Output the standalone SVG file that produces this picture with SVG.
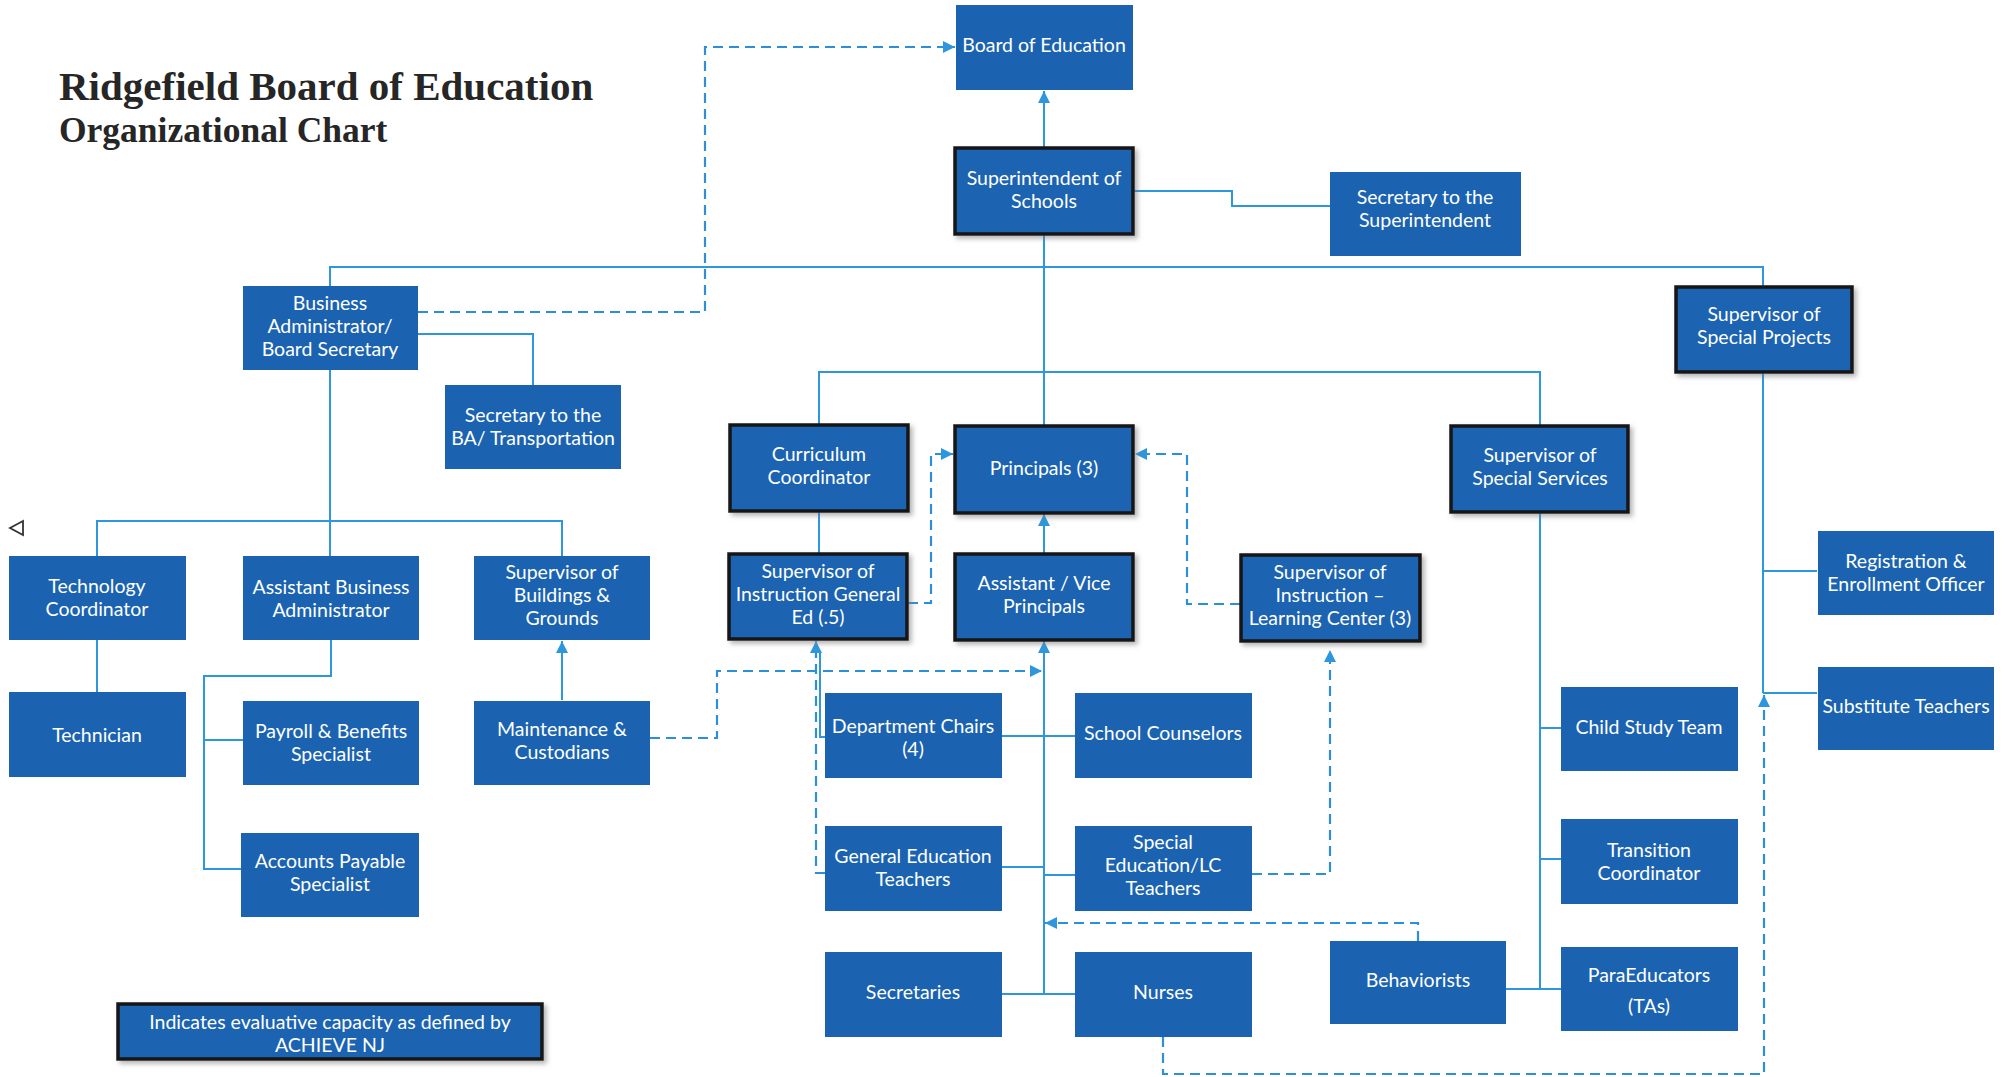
<svg xmlns="http://www.w3.org/2000/svg" width="2013" height="1077" viewBox="0 0 2013 1077">
<defs>
<style>
.box{fill:#1b63b1;}
.dark{stroke:#141414;stroke-width:3.5;filter:url(#sh);}
.t{font-family:Lato,"Open Sans","Noto Sans",sans-serif;font-size:19.5px;fill:#ffffff;text-anchor:middle;}
.title{font-family:"Liberation Serif","DejaVu Serif",serif;font-weight:bold;fill:#262626;}
.ln{fill:none;stroke:#2d96dc;stroke-width:2;}
.ds{fill:none;stroke:#2d8fd8;stroke-width:2.2;stroke-dasharray:10 6;}
</style>
<filter id="sh" x="-10%" y="-10%" width="125%" height="130%">
<feDropShadow dx="3" dy="3" stdDeviation="2.5" flood-color="#777" flood-opacity="0.55"/>
</filter>
<marker id="arr" viewBox="0 0 10 10" refX="10" refY="5" markerWidth="12" markerHeight="12" markerUnits="userSpaceOnUse" orient="auto">
<path d="M0,0 L10,5 L0,10 z" fill="#2d96dc"/>
</marker>
</defs>
<rect width="2013" height="1077" fill="#ffffff"/>

<g id="title">
<text class="title" x="59" y="100" font-size="41">Ridgefield Board of Education</text>
<text class="title" x="59" y="142" font-size="35.5">Organizational Chart</text>
</g>
<path d="M23,521 L10,528 L23,535 Z" fill="none" stroke="#333" stroke-width="1.8"/>

<g id="connectors">
<path class="ln" d="M1044,147 V91" marker-end="url(#arr)"/>
<path class="ln" d="M1134,191 H1232 V206 H1330"/>
<path class="ln" d="M1044,234 V426"/>
<path class="ln" d="M330,286 V267 H1763 V286"/>
<path class="ln" d="M819,425 V372 H1540 V425"/>
<path class="ln" d="M418,334 H533 V385"/>
<path class="ln" d="M330,370 V556"/>
<path class="ln" d="M97,556 V521 H562 V556"/>
<path class="ln" d="M97,640 V692"/>
<path class="ln" d="M331,640 V676 H204 V869 H241"/>
<path class="ln" d="M204,740 H243"/>
<path class="ln" d="M562,700 V641" marker-end="url(#arr)"/>
<path class="ln" d="M819,511 V553"/>
<path class="ln" d="M1044,553 V514" marker-end="url(#arr)"/>
<path class="ln" d="M1044,994 V641" marker-end="url(#arr)"/>
<path class="ln" d="M825,737 H820 V652"/>
<path class="ln" d="M1002,736 H1075"/>
<path class="ln" d="M1002,867 H1044"/>
<path class="ln" d="M1044,875 H1075"/>
<path class="ln" d="M1002,994 H1075"/>
<path class="ln" d="M1540,512 V989"/>
<path class="ln" d="M1540,728 H1561"/>
<path class="ln" d="M1540,859 H1561"/>
<path class="ln" d="M1506,989 H1561"/>
<path class="ln" d="M1763,372 V693"/>
<path class="ln" d="M1763,571 H1817"/>
<path class="ln" d="M1763,693 H1817"/>

<path class="ds" d="M418,312 H705 V47 H955" marker-end="url(#arr)"/>
<path class="ds" d="M908,603 H931 V454 H953" marker-end="url(#arr)"/>
<path class="ds" d="M1240,604 H1187 V454 H1135" marker-end="url(#arr)"/>
<path class="ds" d="M650,738 H717 V671 H1042" marker-end="url(#arr)"/>
<path class="ds" d="M825,873 H816 V641" marker-end="url(#arr)"/>
<path class="ds" d="M1252,874 H1330 V650" marker-end="url(#arr)"/>
<path class="ds" d="M1418,941 V923 H1045" marker-end="url(#arr)"/>
<path class="ds" d="M1163,1037 V1074 H1764 V695" marker-end="url(#arr)"/>
</g>

<g id="board"><rect class="box" x="956" y="5" width="177" height="85"/><text class="t" x="1044" y="52">Board of Education</text></g>
<g id="superintendent"><rect class="box dark" x="955" y="148" width="178" height="86"/><text class="t" x="1044" y="185">Superintendent of</text><text class="t" x="1044" y="208">Schools</text></g>
<g id="sec-super"><rect class="box" x="1330" y="172" width="191" height="84"/><text class="t" x="1425" y="204">Secretary to the</text><text class="t" x="1425" y="227">Superintendent</text></g>
<g id="business-admin"><rect class="box" x="243" y="286" width="175" height="84"/><text class="t" x="330" y="310">Business</text><text class="t" x="330" y="333">Administrator/</text><text class="t" x="330" y="356">Board Secretary</text></g>
<g id="sec-ba"><rect class="box" x="445" y="385" width="176" height="84"/><text class="t" x="533" y="422">Secretary to the</text><text class="t" x="533" y="445">BA/ Transportation</text></g>
<g id="special-projects"><rect class="box dark" x="1676" y="287" width="176" height="85"/><text class="t" x="1764" y="321">Supervisor of</text><text class="t" x="1764" y="344">Special Projects</text></g>
<g id="curriculum"><rect class="box dark" x="730" y="425" width="178" height="86"/><text class="t" x="819" y="461">Curriculum</text><text class="t" x="819" y="484">Coordinator</text></g>
<g id="principals"><rect class="box dark" x="955" y="426" width="178" height="87"/><text class="t" x="1044" y="475">Principals (3)</text></g>
<g id="special-services"><rect class="box dark" x="1451" y="426" width="177" height="86"/><text class="t" x="1540" y="462">Supervisor of</text><text class="t" x="1540" y="485">Special Services</text></g>
<g id="tech-coord"><rect class="box" x="9" y="556" width="177" height="84"/><text class="t" x="97" y="593">Technology</text><text class="t" x="97" y="616">Coordinator</text></g>
<g id="asst-ba"><rect class="box" x="243" y="556" width="176" height="84"/><text class="t" x="331" y="594">Assistant Business</text><text class="t" x="331" y="617">Administrator</text></g>
<g id="buildings"><rect class="box" x="474" y="556" width="176" height="84"/><text class="t" x="562" y="579">Supervisor of</text><text class="t" x="562" y="602">Buildings &amp;</text><text class="t" x="562" y="625">Grounds</text></g>
<g id="sup-gen-ed"><rect class="box dark" x="729" y="554" width="178" height="85"/><text class="t" x="818" y="578">Supervisor of</text><text class="t" x="818" y="601">Instruction General</text><text class="t" x="818" y="624">Ed (.5)</text></g>
<g id="asst-vice"><rect class="box dark" x="955" y="554" width="178" height="86"/><text class="t" x="1044" y="590">Assistant / Vice</text><text class="t" x="1044" y="613">Principals</text></g>
<g id="sup-lc"><rect class="box dark" x="1241" y="555" width="179" height="86"/><text class="t" x="1330" y="579">Supervisor of</text><text class="t" x="1330" y="602">Instruction –</text><text class="t" x="1330" y="625">Learning Center (3)</text></g>
<g id="registration"><rect class="box" x="1818" y="531" width="176" height="84"/><text class="t" x="1906" y="568">Registration &amp;</text><text class="t" x="1906" y="591">Enrollment Officer</text></g>
<g id="technician"><rect class="box" x="9" y="692" width="177" height="85"/><text class="t" x="97" y="742">Technician</text></g>
<g id="payroll"><rect class="box" x="243" y="701" width="176" height="84"/><text class="t" x="331" y="738">Payroll &amp; Benefits</text><text class="t" x="331" y="761">Specialist</text></g>
<g id="maintenance"><rect class="box" x="474" y="701" width="176" height="84"/><text class="t" x="562" y="736">Maintenance &amp;</text><text class="t" x="562" y="759">Custodians</text></g>
<g id="dept-chairs"><rect class="box" x="825" y="693" width="177" height="85"/><text class="t" x="913" y="733">Department Chairs</text><text class="t" x="913" y="756">(4)</text></g>
<g id="counselors"><rect class="box" x="1075" y="693" width="177" height="85"/><text class="t" x="1163" y="740">School Counselors</text></g>
<g id="child-study"><rect class="box" x="1561" y="687" width="177" height="84"/><text class="t" x="1649" y="734">Child Study Team</text></g>
<g id="substitute"><rect class="box" x="1818" y="667" width="176" height="83"/><text class="t" x="1906" y="713">Substitute Teachers</text></g>
<g id="accounts-payable"><rect class="box" x="241" y="833" width="178" height="84"/><text class="t" x="330" y="868">Accounts Payable</text><text class="t" x="330" y="891">Specialist</text></g>
<g id="gen-ed-teachers"><rect class="box" x="825" y="826" width="177" height="85"/><text class="t" x="913" y="863">General Education</text><text class="t" x="913" y="886">Teachers</text></g>
<g id="special-ed-teachers"><rect class="box" x="1075" y="826" width="177" height="85"/><text class="t" x="1163" y="849">Special</text><text class="t" x="1163" y="872">Education/LC</text><text class="t" x="1163" y="895">Teachers</text></g>
<g id="transition"><rect class="box" x="1561" y="819" width="177" height="85"/><text class="t" x="1649" y="857">Transition</text><text class="t" x="1649" y="880">Coordinator</text></g>
<g id="secretaries"><rect class="box" x="825" y="952" width="177" height="85"/><text class="t" x="913" y="999">Secretaries</text></g>
<g id="nurses"><rect class="box" x="1075" y="952" width="177" height="85"/><text class="t" x="1163" y="999">Nurses</text></g>
<g id="behaviorists"><rect class="box" x="1330" y="941" width="176" height="83"/><text class="t" x="1418" y="987">Behaviorists</text></g>
<g id="paraeducators"><rect class="box" x="1561" y="947" width="177" height="84"/><text class="t" x="1649" y="982">ParaEducators</text><text class="t" x="1649" y="1013">(TAs)</text></g>
<g id="legend"><rect class="box dark" x="118" y="1004" width="424" height="55"/><text class="t" x="330" y="1029">Indicates evaluative capacity as defined by</text><text class="t" x="330" y="1052">ACHIEVE NJ</text></g>
</svg>
